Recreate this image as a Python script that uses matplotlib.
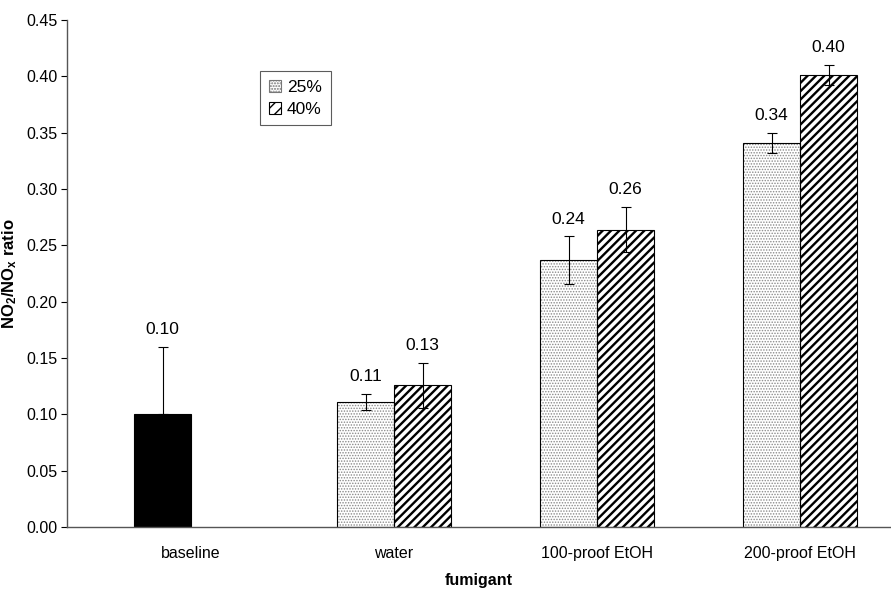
import numpy as np
import matplotlib
matplotlib.use("Agg")
import matplotlib.pyplot as plt
from matplotlib.patches import Patch

plt.rcParams['font.family'] = ['Liberation Sans', 'DejaVu Sans']
plt.rcParams['mathtext.fontset'] = 'custom'
plt.rcParams['mathtext.rm'] = 'Liberation Sans'
plt.rcParams['mathtext.bf'] = 'Liberation Sans:bold'

# Data
categories = ["baseline", "water", "100-proof EtOH", "200-proof EtOH"]
baseline_value = 0.100
baseline_err = 0.060
fumigant_cats = ["water", "100-proof EtOH", "200-proof EtOH"]
ratio_25 = [0.111, 0.237, 0.341]
err_25 = [0.007, 0.021, 0.009]
ratio_40 = [0.126, 0.264, 0.401]
err_40 = [0.020, 0.020, 0.009]
series_labels = ["25%", "40%"]
yticks = [0.00, 0.05, 0.10, 0.15, 0.20, 0.25, 0.30, 0.35, 0.40, 0.45]

fig = plt.figure(figsize=(8.91, 6.01), dpi=100)
ax = fig.add_axes([0.0752, 0.1231, 0.9248, 0.8436])

w = 0.281
x_all = np.arange(len(categories))
x_f = np.array([categories.index(c) for c in fumigant_cats])

err_kw = dict(ecolor='black', elinewidth=0.8, capsize=3.5, capthick=0.8)

def label(xs, vals, errs):
    for xi, v, e in zip(xs, vals, errs):
        ax.annotate(f"{v:.2f}", (xi, v + e), xytext=(0, 7), textcoords='offset points',
                    ha='center', va='bottom', fontsize=12.5)

# baseline bar (solid black)
bx = categories.index("baseline") - w / 2
ax.bar(bx, baseline_value, w, color='black', edgecolor='black', lw=0.8, zorder=2)
ax.errorbar(bx, baseline_value, yerr=[[0], [baseline_err]], fmt='none', zorder=3, **err_kw)
label([bx], [baseline_value], [baseline_err])

# 25% bars: light stipple
with plt.rc_context({'hatch.linewidth': 0.7}):
    ax.bar(x_f - w / 2, ratio_25, w, color='white', edgecolor='#8a8a8a', hatch='......', lw=0, zorder=2)
ax.bar(x_f - w / 2, ratio_25, w, fill=False, edgecolor='black', lw=0.8, zorder=2.5)
ax.errorbar(x_f - w / 2, ratio_25, yerr=err_25, fmt='none', zorder=3, **err_kw)
label(x_f - w / 2, ratio_25, err_25)

# 40% bars: heavy diagonal stripes
with plt.rc_context({'hatch.linewidth': 1.7}):
    ax.bar(x_f + w / 2, ratio_40, w, color='white', edgecolor='black', hatch='////', lw=0, zorder=2)
ax.bar(x_f + w / 2, ratio_40, w, fill=False, edgecolor='black', lw=0.8, zorder=2.5)
ax.errorbar(x_f + w / 2, ratio_40, yerr=err_40, fmt='none', zorder=3, **err_kw)
label(x_f + w / 2, ratio_40, err_40)

ax.set_xlim(-0.611, 3.448)
ax.set_ylim(0, 0.45)
ax.set_yticks(yticks)
ax.set_yticklabels([f"{t:.2f}" for t in yticks], fontsize=11.5)
ax.set_xticks(x_all)
ax.set_xticklabels(categories, fontsize=11.5)
ax.tick_params(axis='x', length=0, pad=14)
ax.tick_params(axis='y', direction='out', length=4, width=0.8, pad=3)
for s in ['top', 'right']:
    ax.spines[s].set_visible(False)
for s in ['left', 'bottom']:
    ax.spines[s].set_color('#555555')
    ax.spines[s].set_linewidth(1.0)

ax.set_xlabel("fumigant", fontsize=11.5, fontweight='bold', labelpad=8)
ax.set_ylabel(r"$\mathbf{NO_2/NO_x}$ ratio", fontsize=12, fontweight='bold')
ax.yaxis.set_label_coords(-0.058, 0.5)

with plt.rc_context({'hatch.linewidth': 0.7}):
    p25 = Patch(facecolor='white', edgecolor='#777777', hatch='......', lw=0.8)
with plt.rc_context({'hatch.linewidth': 1.5}):
    p40 = Patch(facecolor='white', edgecolor='black', hatch='///', lw=0.8)
leg = ax.legend([p25, p40], series_labels, loc='upper left', bbox_to_anchor=(0.228, 0.91),
                fontsize=12.5, frameon=True, fancybox=False, edgecolor='#333333',
                handlelength=0.7, handleheight=0.7, handletextpad=0.35, borderpad=0.5,
                labelspacing=0.4, borderaxespad=0.3)
leg.get_frame().set_linewidth(0.8)

fig.savefig("out.png", dpi=100)
